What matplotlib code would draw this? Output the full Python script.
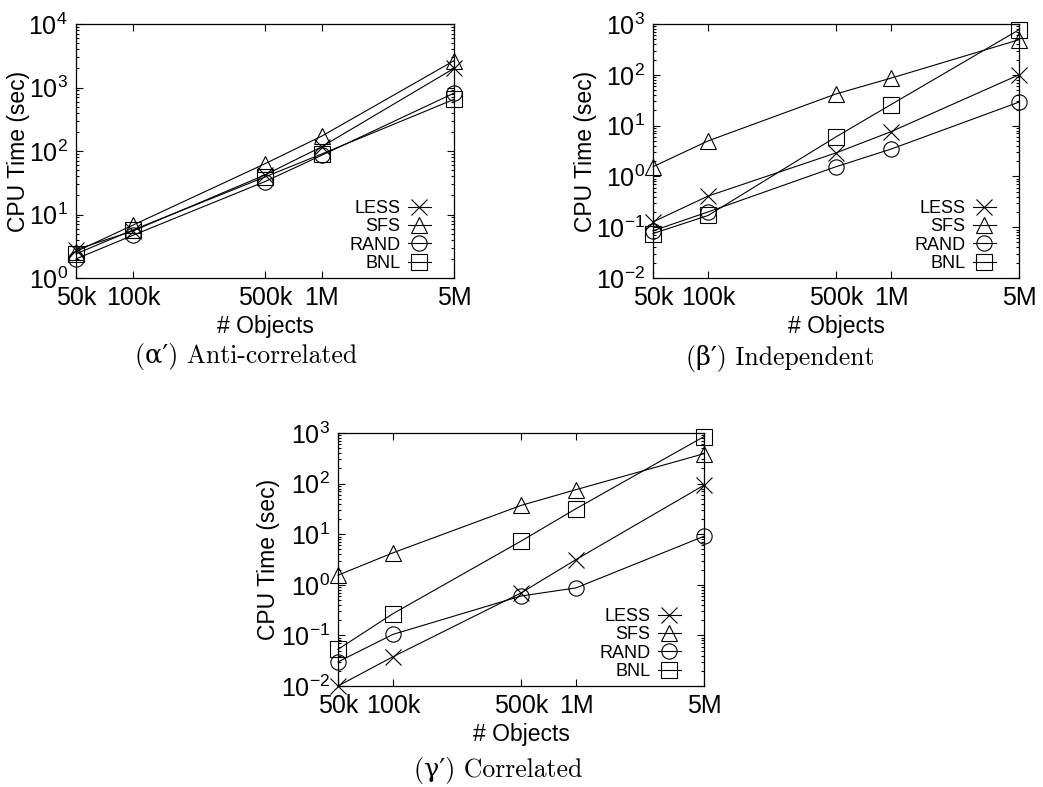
import matplotlib
matplotlib.use("Agg")
import matplotlib.pyplot as plt
from matplotlib.transforms import offset_copy
from matplotlib.ticker import LogLocator, LogFormatterMathtext, NullLocator, NullFormatter

plt.rcParams["font.family"] = ["Liberation Sans", "DejaVu Sans"]
plt.rcParams["mathtext.fontset"] = "custom"
plt.rcParams["mathtext.rm"] = "Liberation Sans"
plt.rcParams["mathtext.default"] = "regular"

# number of objects (x axis)
n_objects = [50e3, 100e3, 500e3, 1e6, 5e6]
x_labels = ["50k", "100k", "500k", "1M", "5M"]
methods = ["LESS", "SFS", "RAND", "BNL"]

# CPU time in seconds
anti_less = [2.8, 5.5, 42, 117, 2000]
anti_sfs = [2.6, 6.8, 63, 172, 2640]
anti_rand = [2.0, 4.7, 33, 86, 815]
anti_bnl = [2.4, 5.7, 39, 90, 650]

ind_less = [0.127, 0.41, 2.9, 7.6, 100]
ind_sfs = [1.55, 5.0, 42, 86, 490]
ind_rand = [0.085, 0.20, 1.55, 3.45, 29]
ind_bnl = [0.075, 0.17, 6.0, 26, 770]

cor_less = [0.010, 0.038, 0.69, 3.16, 93]
cor_sfs = [1.55, 4.3, 37, 76, 390]
cor_rand = [0.030, 0.105, 0.60, 0.87, 9.1]
cor_bnl = [0.053, 0.27, 7.3, 32, 850]

markers = {"LESS": "x", "SFS": "^", "RAND": "o", "BNL": "s"}
msizes = {"LESS": 11, "SFS": 11, "RAND": 11, "BNL": 11}

W, H = 1043, 787


def draw_panel(ax, series, ylim, ylabel_x):
    for name, vals in zip(methods, series):
        ax.plot(n_objects, vals, color="black", lw=0.8,
                marker=markers[name], ms=msizes[name], mfc="none",
                mec="black", mew=0.8, label=name, clip_on=False)
    ax.set_xscale("log")
    ax.set_yscale("log")
    ax.set_xlim(n_objects[0], n_objects[-1])
    ax.set_ylim(*ylim)
    ax.xaxis.set_major_locator(plt.FixedLocator(n_objects))
    ax.xaxis.set_major_formatter(plt.FixedFormatter(x_labels))
    ax.xaxis.set_minor_locator(NullLocator())
    ax.yaxis.set_major_locator(LogLocator(base=10, numticks=10))
    ax.yaxis.set_major_formatter(LogFormatterMathtext())
    ax.yaxis.set_minor_locator(LogLocator(base=10, subs=range(2, 10), numticks=10))
    ax.yaxis.set_minor_formatter(NullFormatter())
    ax.tick_params(which="both", direction="in", top=True, right=True,
                   labelsize=18, width=0.8)
    ax.tick_params(which="major", length=5, pad=6)
    ax.tick_params(which="minor", length=2.5)
    for s in ax.spines.values():
        s.set_linewidth(0.9)
    ax.set_xlabel("# Objects", fontsize=16.5, labelpad=3)
    ax.set_ylabel("CPU Time (sec)", fontsize=16.5)
    ax.yaxis.set_label_coords(ylabel_x, 0.5)
    anchor = offset_copy(ax.transAxes, fig=ax.figure, x=-23, y=6, units="dots")
    ax.legend(loc="lower right", bbox_to_anchor=(1, 0), bbox_transform=anchor,
              frameon=False, markerfirst=False, fontsize=13,
              handlelength=1.3, handletextpad=0.4, labelspacing=0.07,
              borderpad=0, borderaxespad=0)


fig = plt.figure(figsize=(W / 100, H / 100), dpi=100)

ax1 = fig.add_axes([76 / W, 1 - 278 / H, 378 / W, 254 / H])
draw_panel(ax1, [anti_less, anti_sfs, anti_rand, anti_bnl], (1, 1e4), -0.122)

ax2 = fig.add_axes([653 / W, 1 - 278 / H, 366 / W, 254 / H])
draw_panel(ax2, [ind_less, ind_sfs, ind_rand, ind_bnl], (1e-2, 1e3), -0.152)

ax3 = fig.add_axes([338 / W, 1 - 686 / H, 366 / W, 253 / H])
draw_panel(ax3, [cor_less, cor_sfs, cor_rand, cor_bnl], (1e-2, 1e3), -0.158)

cap = dict(fontsize=18.5, ha="center", va="center", family=["cmr10", "DejaVu Serif"])
fig.text(246 / W, 1 - 357 / H, "(\u03b1\u2032) Anti-correlated", **cap)
fig.text(780 / W, 1 - 359 / H, "(\u03b2\u2032) Independent", **cap)
fig.text(498 / W, 1 - 770 / H, "(\u03b3\u2032) Correlated", **cap)

fig.savefig("out.png", dpi=100)
